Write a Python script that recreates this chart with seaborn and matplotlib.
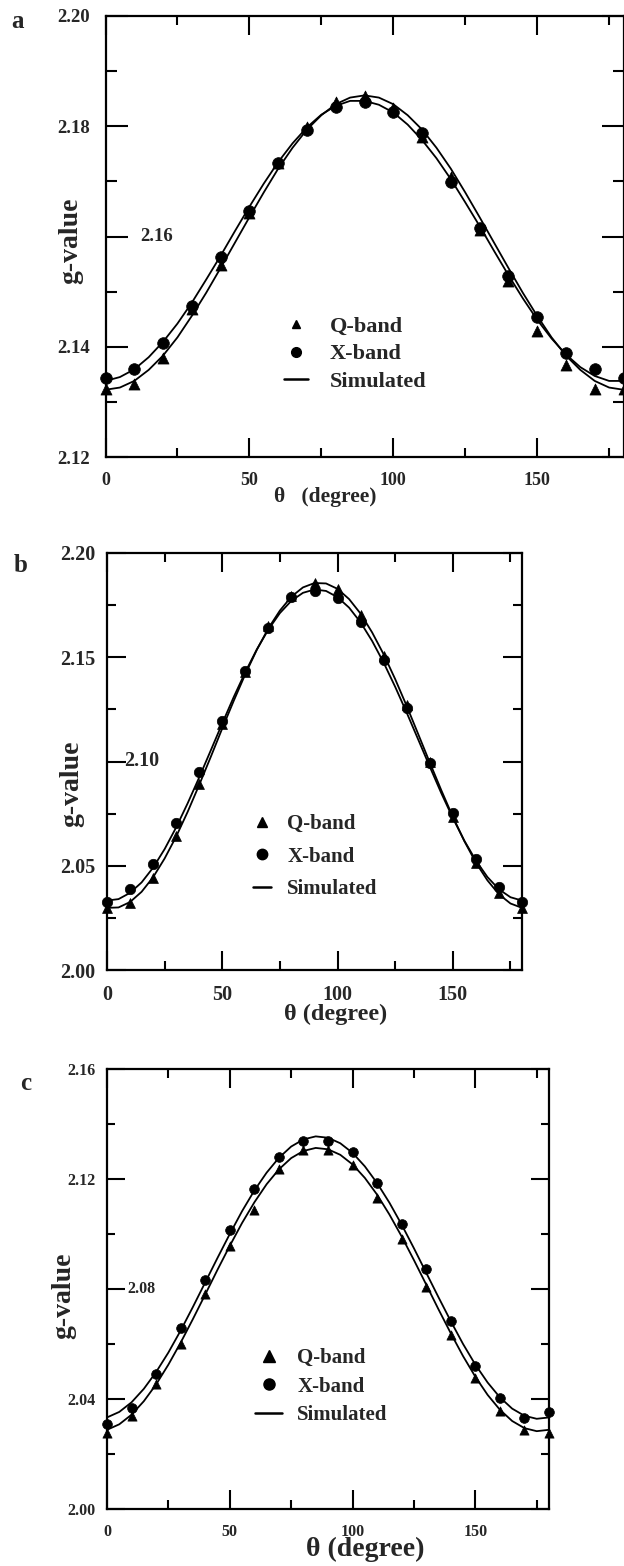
import seaborn as sns
import matplotlib.pyplot as plt
from matplotlib.lines import Line2D
from matplotlib.ticker import MultipleLocator, FuncFormatter

# measured angles (degree)
theta = [0, 10, 20, 30, 40, 50, 60, 70, 80, 90, 100, 110, 120, 130, 140, 150, 160, 170, 180]
# angles at which the simulated curves were read off
theta_sim = [0, 5, 10, 15, 20, 25, 30, 35, 40, 45, 50, 55, 60, 65, 70, 75, 80, 85, 90,
             95, 100, 105, 110, 115, 120, 125, 130, 135, 140, 145, 150, 155, 160, 165, 170, 175, 180]

# panel a
a_q = [2.1324, 2.1333, 2.1380, 2.1469, 2.1548, 2.1642, 2.1733, 2.1799, 2.1844, 2.1854,
       2.1834, 2.1781, 2.1708, 2.1611, 2.1519, 2.1429, 2.1366, 2.1324, 2.1324]
a_x = [2.1343, 2.1360, 2.1406, 2.1474, 2.1562, 2.1647, 2.1734, 2.1794, 2.1835, 2.1844,
       2.1825, 2.1787, 2.1699, 2.1616, 2.1528, 2.1454, 2.1388, 2.1359, 2.1343]
a_q_sim = [2.1322, 2.1326, 2.1338, 2.1358, 2.1384, 2.1417, 2.1456, 2.1498, 2.1543, 2.1589,
           2.1635, 2.1680, 2.1723, 2.1761, 2.1794, 2.1820, 2.1840, 2.1852, 2.1856, 2.1852,
           2.1840, 2.1820, 2.1794, 2.1761, 2.1723, 2.1680, 2.1635, 2.1589, 2.1543, 2.1498,
           2.1456, 2.1417, 2.1384, 2.1358, 2.1338, 2.1326, 2.1322]
a_x_sim = [2.1338, 2.1345, 2.1359, 2.1381, 2.1409, 2.1442, 2.1480, 2.1522, 2.1565, 2.1610,
           2.1654, 2.1696, 2.1735, 2.1769, 2.1798, 2.1821, 2.1837, 2.1846, 2.1846, 2.1839,
           2.1825, 2.1803, 2.1775, 2.1742, 2.1704, 2.1662, 2.1619, 2.1574, 2.1530, 2.1488,
           2.1449, 2.1415, 2.1386, 2.1363, 2.1347, 2.1338, 2.1338]

# panel b
b_q = [2.0296, 2.0320, 2.0443, 2.0645, 2.0893, 2.1179, 2.1430, 2.1648, 2.1795, 2.1856,
       2.1827, 2.1704, 2.1504, 2.1272, 2.1000, 2.0736, 2.0512, 2.0368, 2.0296]
b_x = [2.0325, 2.0389, 2.0507, 2.0704, 2.0952, 2.1195, 2.1432, 2.1640, 2.1789, 2.1819,
       2.1784, 2.1667, 2.1485, 2.1256, 2.0992, 2.0752, 2.0531, 2.0400, 2.0328]
b_q_sim = [2.0298, 2.0300, 2.0326, 2.0375, 2.0445, 2.0535, 2.0640, 2.0759, 2.0888, 2.1022,
           2.1159, 2.1292, 2.1419, 2.1536, 2.1639, 2.1724, 2.1791, 2.1835, 2.1856, 2.1854,
           2.1828, 2.1779, 2.1709, 2.1619, 2.1514, 2.1395, 2.1266, 2.1131, 2.0995, 2.0862,
           2.0735, 2.0618, 2.0515, 2.0430, 2.0363, 2.0319, 2.0298]
b_x_sim = [2.0333, 2.0340, 2.0370, 2.0420, 2.0491, 2.0580, 2.0684, 2.0800, 2.0924, 2.1053,
           2.1183, 2.1310, 2.1429, 2.1538, 2.1633, 2.1712, 2.1771, 2.1809, 2.1825, 2.1818,
           2.1788, 2.1738, 2.1667, 2.1578, 2.1474, 2.1358, 2.1234, 2.1105, 2.0975, 2.0848,
           2.0729, 2.0620, 2.0525, 2.0446, 2.0387, 2.0349, 2.0333]

# panel c
c_q = [2.0278, 2.0339, 2.0453, 2.0601, 2.0783, 2.0957, 2.1086, 2.1235, 2.1306, 2.1306,
       2.1251, 2.1132, 2.0983, 2.0808, 2.0634, 2.0476, 2.0358, 2.0287, 2.0278]
c_x = [2.0310, 2.0369, 2.0491, 2.0660, 2.0834, 2.1013, 2.1162, 2.1281, 2.1339, 2.1339,
       2.1297, 2.1187, 2.1035, 2.0873, 2.0682, 2.0520, 2.0404, 2.0332, 2.0353]
c_q_sim = [2.0288, 2.0308, 2.0343, 2.0392, 2.0453, 2.0525, 2.0605, 2.0691, 2.0780, 2.0870,
           2.0957, 2.1040, 2.1115, 2.1181, 2.1235, 2.1276, 2.1302, 2.1313, 2.1308, 2.1288,
           2.1253, 2.1204, 2.1143, 2.1071, 2.0991, 2.0905, 2.0816, 2.0726, 2.0639, 2.0556,
           2.0481, 2.0415, 2.0361, 2.0320, 2.0294, 2.0283, 2.0288]
c_x_sim = [2.0333, 2.0353, 2.0388, 2.0437, 2.0498, 2.0569, 2.0649, 2.0735, 2.0824, 2.0913,
           2.1000, 2.1083, 2.1158, 2.1223, 2.1277, 2.1318, 2.1344, 2.1355, 2.1350, 2.1330,
           2.1295, 2.1246, 2.1185, 2.1114, 2.1034, 2.0948, 2.0859, 2.0770, 2.0683, 2.0600,
           2.0525, 2.0460, 2.0406, 2.0365, 2.0339, 2.0328, 2.0333]

legend_labels = ["Q-band", "X-band", "Simulated"]

sns.set_theme(style="ticks")
plt.rcParams["font.family"] = ["Liberation Serif", "DejaVu Serif"]
plt.rcParams["font.weight"] = "bold"
plt.rcParams["axes.labelweight"] = "bold"

W, H = 624, 1566
fig = plt.figure(figsize=(W / 100, H / 100), dpi=100)


def box(left, right, top, bottom):
    return [left / W, (H - bottom) / H, (right - left) / W, (bottom - top) / H]


panels = [
    dict(tag="a", tag_xy=(18, 22), pos=box(105.5, 623.5, 16, 457),
         q=a_q, x=a_x, q_sim=a_q_sim, x_sim=a_x_sim,
         ylim=(2.12, 2.20), major=0.02, minor=0.01, inside=2.16, inside_x=0.130,
         ytick_fs=13.5, xtick_fs=13, ypad=11, xpad=11, ymaj=16, ymin=8,
         ylab_fs=20, ylab_xy=(-0.042, 0.49), xlab="θ   (degree)", xlab_fs=15.5, xlab_xy=(0.424, -0.068),
         ms=8.4, leg_fs=16, leg_ms=(6, 7), leg_anchor=(0.345, 0.320),
         hl=1.05, tp=1.0, ls=0.33),
    dict(tag="b", tag_xy=(21, 565), pos=box(107, 522, 553, 970),
         q=b_q, x=b_x, q_sim=b_q_sim, x_sim=b_x_sim,
         ylim=(2.00, 2.20), major=0.05, minor=0.025, inside=2.10, inside_x=0.125,
         ytick_fs=14.5, xtick_fs=14.5, ypad=8.3, xpad=11, ymaj=14, ymin=6.5,
         ylab_fs=20, ylab_xy=(-0.055, 0.446), xlab="θ (degree)", xlab_fs=17.5, xlab_xy=(0.552, -0.081),
         ms=7.5, leg_fs=15, leg_ms=(7, 7.5), leg_anchor=(0.352, 0.374),
         hl=0.87, tp=0.77, ls=0.6),
    dict(tag="c", tag_xy=(26, 1083), pos=box(107, 549, 1069, 1509),
         q=c_q, x=c_x, q_sim=c_q_sim, x_sim=c_x_sim,
         ylim=(2.00, 2.16), major=0.04, minor=0.02, inside=2.08, inside_x=0.109,
         ytick_fs=11.5, xtick_fs=11.5, ypad=8, xpad=10.5, ymaj=13, ymin=6,
         ylab_fs=20, ylab_xy=(-0.070, 0.484), xlab="θ (degree)", xlab_fs=20, xlab_xy=(0.584, -0.064),
         ms=7, leg_fs=15, leg_ms=(8.5, 8), leg_anchor=(0.335, 0.366),
         hl=1.3, tp=0.72, ls=0.42),
]

for p in panels:
    ax = fig.add_axes(p["pos"])

    sns.lineplot(x=theta_sim, y=p["q_sim"], color="black", linewidth=1.3, ax=ax)
    sns.lineplot(x=theta_sim, y=p["x_sim"], color="black", linewidth=1.3, ax=ax)
    sns.scatterplot(x=theta, y=p["q"], marker="^", s=p["ms"] ** 2 * 0.9, color="black",
                    edgecolor="black", linewidth=0.5, ax=ax, clip_on=False, zorder=3)
    sns.scatterplot(x=theta, y=p["x"], marker="o", s=p["ms"] ** 2, color="black",
                    edgecolor="black", linewidth=0.5, ax=ax, clip_on=False, zorder=3)

    ax.set_xlim(0, 180)
    ax.set_ylim(*p["ylim"])
    ax.xaxis.set_major_locator(MultipleLocator(50))
    ax.xaxis.set_minor_locator(MultipleLocator(25))
    ax.yaxis.set_major_locator(MultipleLocator(p["major"]))
    ax.yaxis.set_minor_locator(MultipleLocator(p["minor"]))

    # one y label sits inside the frame in the original
    inside = p["inside"]
    ax.yaxis.set_major_formatter(
        FuncFormatter(lambda v, pos, inside=inside: "" if abs(v - inside) < 1e-6 else f"{v:.2f}"))
    ax.text(p["inside_x"], inside, f"{inside:.2f}", transform=ax.get_yaxis_transform(),
            ha="right", va="center", fontsize=p["ytick_fs"], fontweight="bold")

    ax.tick_params(axis="both", which="both", direction="in", top=True, right=True,
                   width=1.5, color="black")
    ax.tick_params(axis="y", which="major", length=p["ymaj"], pad=p["ypad"],
                   labelsize=p["ytick_fs"])
    ax.tick_params(axis="y", which="minor", length=p["ymin"])
    ax.tick_params(axis="x", which="major", length=13.5, pad=p["xpad"],
                   labelsize=p["xtick_fs"])
    ax.tick_params(axis="x", which="minor", length=6.5)
    for lab in ax.get_xticklabels() + ax.get_yticklabels():
        lab.set_fontweight("bold")

    for sp in ax.spines.values():
        sp.set_linewidth(1.6)
        sp.set_color("black")

    ax.set_ylabel("g-value", fontsize=p["ylab_fs"], fontweight="bold")
    ax.yaxis.set_label_coords(*p["ylab_xy"])
    ax.set_xlabel(p["xlab"], fontsize=p["xlab_fs"], fontweight="bold")
    ax.xaxis.set_label_coords(*p["xlab_xy"])

    handles = [
        Line2D([], [], marker="^", ls="none", color="black", ms=p["leg_ms"][0]),
        Line2D([], [], marker="o", ls="none", color="black", ms=p["leg_ms"][1]),
        Line2D([], [], color="black", lw=1.8),
    ]
    ax.legend(handles, legend_labels, loc="upper left", bbox_to_anchor=p["leg_anchor"],
              frameon=False, prop={"weight": "bold", "size": p["leg_fs"]},
              handlelength=p["hl"], handletextpad=p["tp"], labelspacing=p["ls"],
              borderpad=0, borderaxespad=0)

    fig.text(p["tag_xy"][0] / W, 1 - p["tag_xy"][1] / H, p["tag"], fontsize=18,
             fontweight="bold", ha="center", va="center")

fig.savefig("out.png", dpi=100)
